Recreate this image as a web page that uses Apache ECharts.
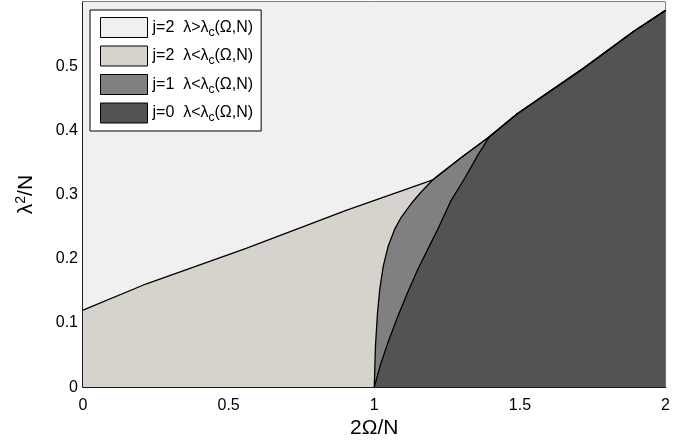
<!DOCTYPE html>
<html>
<head>
<meta charset="utf-8">
<script src="https://cdn.jsdelivr.net/npm/echarts@6/dist/echarts.min.js"></script>
<style>
html,body{margin:0;padding:0;background:#fff;}
#chart{width:673px;height:444px;}
</style>
</head>
<body>
<div id="chart"></div>
<script>
// ---- data ----
const seriesNames = ['j=2  λ>λc(Ω,N)', 'j=2  λ<λc(Ω,N)', 'j=1  λ<λc(Ω,N)', 'j=0  λ<λc(Ω,N)'];
const xTicks = [0, 0.5, 1, 1.5, 2];
const yTicks = [0, 0.1, 0.2, 0.3, 0.4, 0.5];
const X_MAX = 2;
const Y_MAX = 0.6;

// boundary of j=2 region (above: λ>λc, below: λ<λc), up to the j=1 junction
const j2BoundaryX = [0, 0.218, 0.56, 0.901, 1.201];
const j2BoundaryY = [0.12, 0.161, 0.216, 0.275, 0.323];

// left boundary of j=1 region
const j1LeftX = [1.000, 1.004, 1.011, 1.019, 1.031, 1.048, 1.071, 1.093, 1.127, 1.161, 1.201];
const j1LeftY = [0.000, 0.063, 0.115, 0.153, 0.189, 0.220, 0.247, 0.265, 0.286, 0.304, 0.323];

// upper boundary of j=1 region (between the two junctions)
const j1TopX = [1.201, 1.300, 1.395];
const j1TopY = [0.323, 0.358, 0.390];

// left boundary of j=0 region
const j0LeftX = [1.000, 1.022, 1.045, 1.079, 1.113, 1.150, 1.184, 1.218, 1.264, 1.310, 1.355, 1.395];
const j0LeftY = [0.000, 0.036, 0.067, 0.108, 0.146, 0.184, 0.215, 0.246, 0.291, 0.325, 0.361, 0.390];

// upper boundary of j=0 region
const j0TopX = [1.395, 1.491, 1.719, 1.890, 2.000];
const j0TopY = [0.390, 0.426, 0.497, 0.554, 0.587];

// ---- build point lists ----
function pts(xs, ys) { return xs.map((x, i) => [x, ys[i]]); }
const j2Pts = pts(j2BoundaryX, j2BoundaryY);
const j1LeftPts = pts(j1LeftX, j1LeftY);
const j1TopPts = pts(j1TopX, j1TopY);
const j0LeftPts = pts(j0LeftX, j0LeftY);
const j0TopPts = pts(j0TopX, j0TopY);

const beigeData = j2Pts.concat(j1TopPts.slice(1), j0TopPts.slice(1));
const j1Data = j1LeftPts.concat(j1TopPts.slice(1), j0TopPts.slice(1));
const j0Data = j0LeftPts.concat(j0TopPts.slice(1));
const topData = [[0, Y_MAX], [X_MAX, Y_MAX]];

const colors = ['#f0f0f0', '#d6d3cc', '#808080', '#535353'];
const FONT = 'Liberation Sans, Arial, sans-serif';

function areaSeries(name, data, color, showLine) {
  return {
    type: 'line', name: name, data: data, symbol: 'none', silent: true,
    lineStyle: { color: '#000', width: showLine ? 1.3 : 0 },
    itemStyle: { color: color },
    areaStyle: { color: color, opacity: 1 },
    animation: false
  };
}

const chart = echarts.init(document.getElementById('chart'));
chart.setOption({
  animation: false,
  backgroundColor: '#fff',
  grid: { left: 83, right: 4, top: 2, bottom: 56, show: true, borderColor: '#000', borderWidth: 1, backgroundColor: '#f0f0f0' },
  legend: {
    left: 90, top: 10, orient: 'vertical',
    backgroundColor: '#fff', borderColor: '#000', borderWidth: 1,
    padding: [7, 8, 7, 10],
    itemWidth: 47, itemHeight: 20, itemGap: 7,
    icon: 'rect',
    data: seriesNames.map((n, i) => ({ name: n, itemStyle: { color: colors[i], borderColor: '#000', borderWidth: 1 } })),
    formatter: function (name) { return name.replace('λc', 'λ{s|c}'); },
    textStyle: {
      fontFamily: FONT, fontSize: 16, color: '#000',
      rich: { s: { fontFamily: FONT, fontSize: 12, color: '#000', padding: [10, 0, 0, 0] } }
    }
  },
  xAxis: {
    type: 'value', min: 0, max: X_MAX, interval: xTicks[1] - xTicks[0],
    name: '2Ω/N', nameLocation: 'middle', nameGap: 29,
    nameTextStyle: { fontFamily: FONT, fontSize: 21, color: '#000' },
    axisLine: { show: true, onZero: false, lineStyle: { color: '#000', width: 1.5 } },
    axisTick: { show: false },
    splitLine: { show: false },
    axisLabel: { fontFamily: FONT, fontSize: 16, color: '#000', margin: 10 }
  },
  yAxis: {
    type: 'value', min: 0, max: Y_MAX, interval: yTicks[1] - yTicks[0],
    name: 'λ{sup|2}/N', nameLocation: 'middle', nameGap: 45, nameRotate: 90,
    nameTextStyle: { fontFamily: FONT, fontSize: 21, color: '#000',
      rich: { sup: { fontFamily: FONT, fontSize: 14, color: '#000', padding: [0, 0, 10, 0] } } },
    axisLine: { show: true, onZero: false, lineStyle: { color: '#000', width: 1.5 } },
    axisTick: { show: false },
    splitLine: { show: false },
    axisLabel: { fontFamily: FONT, fontSize: 16, color: '#000', margin: 5, showMaxLabel: false }
  },
  series: [
    areaSeries(seriesNames[0], topData, colors[0], false),
    areaSeries(seriesNames[1], beigeData, colors[1], true),
    areaSeries(seriesNames[2], j1Data, colors[2], true),
    areaSeries(seriesNames[3], j0Data, colors[3], true)
  ]
});
</script>
</body>
</html>
